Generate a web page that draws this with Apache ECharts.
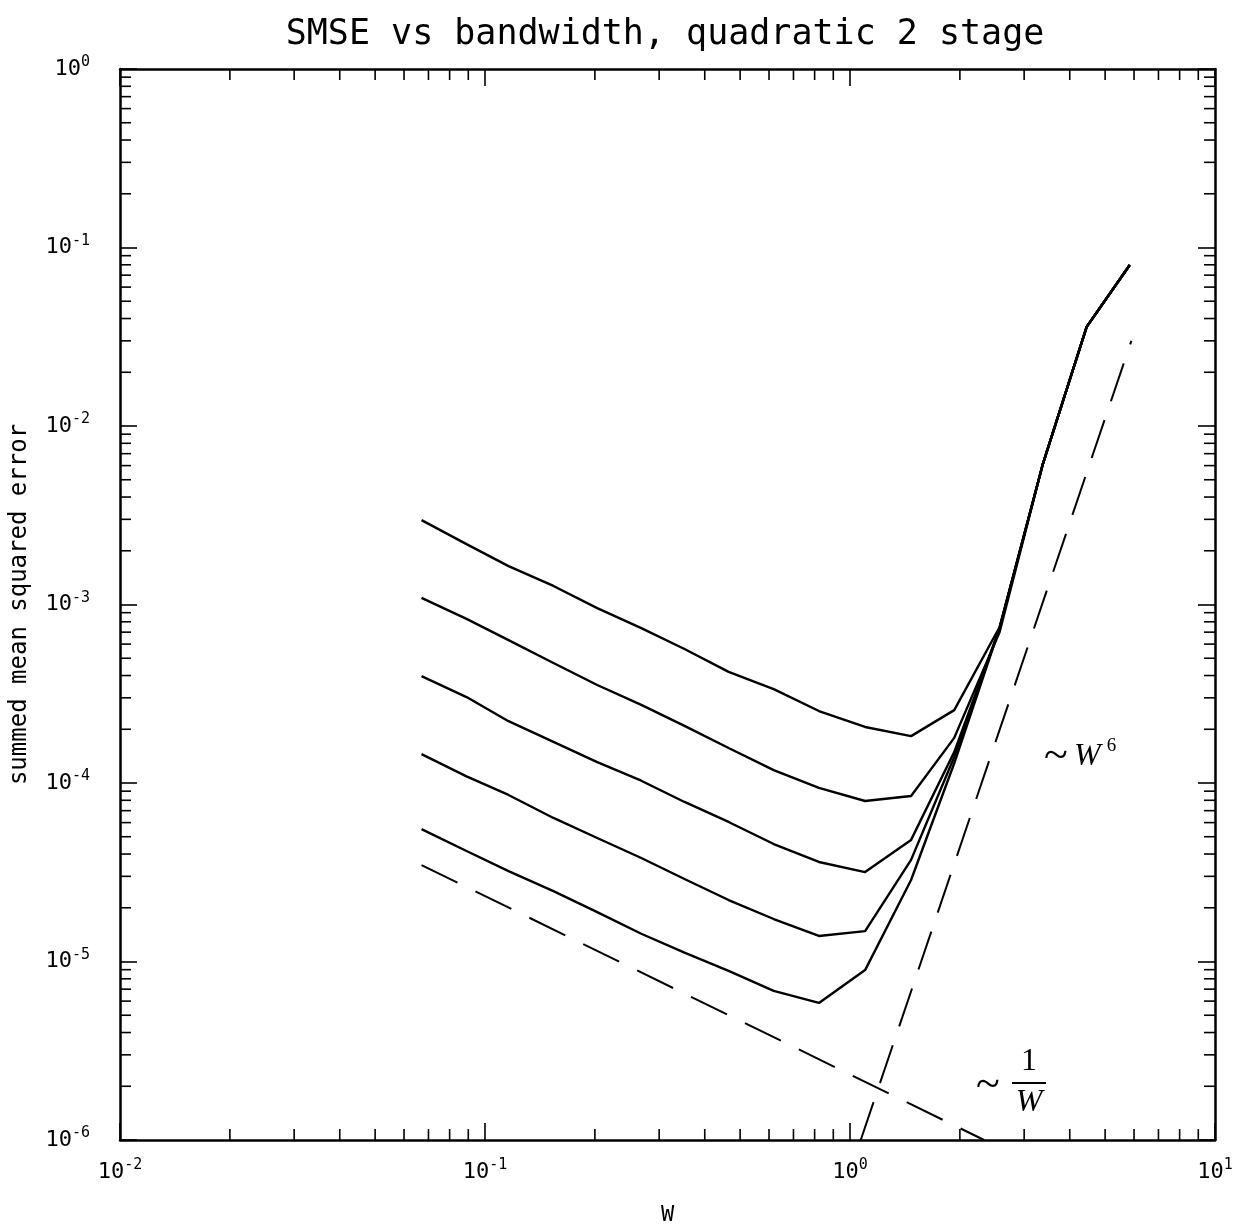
<!DOCTYPE html>
<html><head><meta charset="utf-8">
<script src="https://cdn.jsdelivr.net/npm/echarts@6/dist/echarts.min.js"></script>
<style>html,body{margin:0;padding:0;background:#fff}#c{width:1243px;height:1230px}</style>
</head><body><div id="c"></div>
<script>
// bandwidth values (x)
const W = [0.067,0.089,0.116,0.154,0.203,0.268,0.352,0.465,0.618,0.822,1.10,1.47,1.93,2.57,3.37,4.45,5.84];
// SMSE curves (top to bottom)
const curve1 = [2.97e-3,2.18e-3,1.64e-3,1.27e-3,9.55e-4,7.38e-4,5.63e-4,4.19e-4,3.36e-4,2.53e-4,2.06e-4,1.83e-4,2.56e-4,7.48e-4,6.05e-3,3.59e-2,7.98e-2];
const curve2 = [1.09e-3,8.30e-4,6.32e-4,4.70e-4,3.54e-4,2.74e-4,2.09e-4,1.57e-4,1.18e-4,9.38e-5,7.93e-5,8.45e-5,1.79e-4,7.02e-4,6.05e-3,3.59e-2,7.98e-2];
const curve3 = [3.97e-4,3.03e-4,2.22e-4,1.70e-4,1.31e-4,1.03e-4,7.83e-5,6.05e-5,4.55e-5,3.61e-5,3.17e-5,4.80e-5,1.49e-4,7.38e-4,6.05e-3,3.59e-2,7.98e-2];
const curve4 = [1.45e-4,1.09e-4,8.57e-5,6.37e-5,4.92e-5,3.80e-5,2.90e-5,2.21e-5,1.73e-5,1.39e-5,1.48e-5,3.71e-5,1.40e-4,7.38e-4,6.05e-3,3.59e-2,7.98e-2];
const curve5 = [5.52e-5,4.16e-5,3.21e-5,2.48e-5,1.89e-5,1.43e-5,1.12e-5,8.85e-6,6.84e-6,5.86e-6,8.95e-6,2.86e-5,1.29e-4,7.38e-4,6.05e-3,3.59e-2,7.98e-2];
// asymptote guide lines
const invW_W = [0.067, 2.33];
const invW_V = [3.47e-5, 1.0e-6];
const w6_W = [1.07, 5.9];
const w6_V = [1.0e-6, 3.0e-2];
// tick definitions
const xDecades = [-2,-1,0];
const yDecades = [-6,-5,-4,-3,-2,-1];
const minorMult = [2,3,4,5,6,7,8,9];

const MONO = "'DejaVu Sans Mono', monospace";
const SERIF = "'Liberation Serif','DejaVu Serif', serif";

const xMinor = [], yMinor = [];
xDecades.forEach(d => minorMult.forEach(m => xMinor.push([m*Math.pow(10,d), 1e-6])));
yDecades.forEach(d => minorMult.forEach(m => yMinor.push([0.01, m*Math.pow(10,d)])));

function pw(v){ return Math.round(Math.log10(v)); }
const labelRich = {
  b: {fontFamily: MONO, fontSize: 22, color:'#000', lineHeight: 28},
  s: {fontFamily: MONO, fontSize: 15, color:'#000', lineHeight: 15, verticalAlign: 'top'}
};
function fmt(v){ return '{b|10}{s|' + pw(v) + '}'; }

const frame = {show:true, lineStyle:{color:'#000', width:2.5}};
const majTick = {show:true, inside:true, length:17, lineStyle:{color:'#000', width:1.6}};

function mk(vals){ return W.map((w,i)=>[w, vals[i]]); }
function lineSeries(vals){
  return {type:'line', data: mk(vals), symbol:'none', silent:true,
    lineStyle:{color:'#000', width:2.4}, xAxisIndex:0, yAxisIndex:0};
}
function dashSeries(xs, ys){
  return {type:'line', data: xs.map((x,i)=>[x, ys[i]]), symbol:'none', silent:true,
    lineStyle:{color:'#000', width:2, type:[40,20]}, xAxisIndex:0, yAxisIndex:0};
}
const TL = 11;
function tickLine(x1,y1,x2,y2){ return {type:'line', shape:{x1,y1,x2,y2}, style:{stroke:'#000', lineWidth:1.6}}; }

const chart = echarts.init(document.getElementById('c'), null, {renderer:'canvas'});
chart.setOption({
  backgroundColor:'#fff',
  animation:false,
  title:{text:'SMSE vs bandwidth, quadratic 2 stage', left:660, top:12, textAlign:'center',
    textStyle:{fontFamily:MONO, fontSize:35, fontWeight:'normal', color:'#000'}},
  grid:{left:120, right:28, top:69, bottom:90, containLabel:false, outerBoundsMode:'none'},
  xAxis:[
    {type:'log', logBase:10, min:0.01, max:10, splitNumber:3, position:'bottom',
     axisLine:frame, axisTick:majTick, splitLine:{show:false},
     axisLabel:{formatter:fmt, rich:labelRich, margin:18},
     name:'W', nameLocation:'middle', nameGap:64,
     nameTextStyle:{fontFamily:MONO, fontSize:22, color:'#000'}},
    {type:'log', logBase:10, min:0.01, max:10, splitNumber:3, position:'top',
     axisLine:frame, axisTick:majTick, splitLine:{show:false}, axisLabel:{show:false}}
  ],
  yAxis:[
    {type:'log', logBase:10, min:1e-6, max:1, splitNumber:6, position:'left',
     axisLine:frame, axisTick:majTick, splitLine:{show:false},
     axisLabel:{formatter:fmt, rich:labelRich, margin:30},
     name:'summed mean squared error', nameLocation:'middle', nameGap:88,
     nameTextStyle:{fontFamily:MONO, fontSize:24, color:'#000'}},
    {type:'log', logBase:10, min:1e-6, max:1, splitNumber:6, position:'right',
     axisLine:frame, axisTick:majTick, splitLine:{show:false}, axisLabel:{show:false}}
  ],
  series:[
    lineSeries(curve1), lineSeries(curve2), lineSeries(curve3), lineSeries(curve4), lineSeries(curve5),
    dashSeries(invW_W, invW_V), dashSeries(w6_W, w6_V),
    {type:'custom', silent:true, clip:false, data:xMinor, xAxisIndex:0, yAxisIndex:0,
     renderItem:function(params, api){
       const cs = params.coordSys; const p = api.coord([api.value(0), api.value(1)]);
       const b = cs.y + cs.height;
       return {type:'group', children:[tickLine(p[0], b, p[0], b-TL), tickLine(p[0], cs.y, p[0], cs.y+TL)]};
     }},
    {type:'custom', silent:true, clip:false, data:yMinor, xAxisIndex:0, yAxisIndex:0,
     renderItem:function(params, api){
       const cs = params.coordSys; const p = api.coord([api.value(0), api.value(1)]);
       const r = cs.x + cs.width;
       return {type:'group', children:[tickLine(cs.x, p[1], cs.x+TL, p[1]), tickLine(r, p[1], r-TL, p[1])]};
     }}
  ],
  graphic:[
    {type:'text', x:1044, y:757, style:{text:'~', font:"44px 'Liberation Serif'", fill:'#000', textVerticalAlign:'middle'}},
    {type:'text', x:1074, y:757, style:{
      text:'{w|W}{s|6}', textVerticalAlign:'middle',
      rich:{w:{fontFamily:SERIF, fontSize:32, fontStyle:'italic', fill:'#000', lineHeight:40},
            s:{fontFamily:SERIF, fontSize:19, fill:'#000', lineHeight:19, verticalAlign:'top', padding:[0,0,0,6]}}}},
    {type:'text', x:976, y:1086, style:{text:'~', font:"44px 'Liberation Serif'", fill:'#000', textVerticalAlign:'middle'}},
    {type:'text', x:1029, y:1078, style:{text:'1', font:"32px 'Liberation Serif'", fill:'#000', textAlign:'center', textVerticalAlign:'bottom'}},
    {type:'line', shape:{x1:1012, y1:1083, x2:1046, y2:1083}, style:{stroke:'#000', lineWidth:2.2}},
    {type:'text', x:1029, y:1087, style:{text:'W', font:"italic 32px 'Liberation Serif'", fill:'#000', textAlign:'center', textVerticalAlign:'top'}}
  ]
});
</script></body></html>
